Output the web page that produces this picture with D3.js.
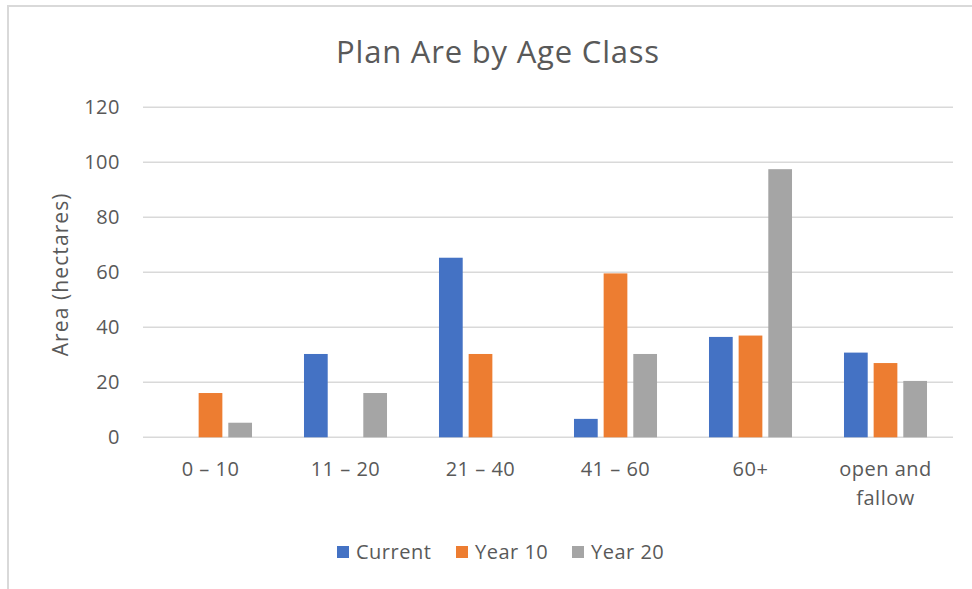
<!DOCTYPE html>
<html>
<head>
<meta charset="utf-8">
<script src="https://cdn.jsdelivr.net/npm/d3@7"></script>
<style>
  body { margin: 0; background: #fff; }
  text { font-family: "Open Sans", "Noto Sans", sans-serif; fill: #595959; }
</style>
</head>
<body>
<div id="chart"></div>
<script>
// data
const categories = ['0 – 10', '11 – 20', '21 – 40', '41 – 60', '60+', 'open and fallow'];
const seriesNames = ['Current', 'Year 10', 'Year 20'];
const current = [0, 30.3, 65.3, 6.7, 36.5, 30.8];
const year10 = [16.1, 0, 30.3, 59.6, 37, 27];
const year20 = [5.3, 16.1, 0, 30.3, 97.5, 20.5];
const yTicks = [0, 20, 40, 60, 80, 100, 120];
const colors = ['#4472c4', '#ed7d31', '#a5a5a5'];

const seriesValues = [current, year10, year20];
const rows = categories.map((c, i) => ({
  category: c,
  values: seriesNames.map((s, j) => ({ series: s, value: seriesValues[j][i] }))
}));

const width = 972, height = 589;
const plot = { left: 143, right: 953, top: 107.3, bottom: 437.3 };

const svg = d3.select('#chart').append('svg')
  .attr('width', width)
  .attr('height', height);

// chart frame (only top and left edges show in the picture)
svg.append('rect')
  .attr('x', 8).attr('y', 6)
  .attr('width', 1000).attr('height', 700)
  .attr('fill', 'none')
  .attr('stroke', '#d9d9d9')
  .attr('stroke-width', 2);

const x0 = d3.scaleBand()
  .domain(categories)
  .range([plot.left, plot.right])
  .paddingInner(0.385)
  .paddingOuter(0.1925);

const x1 = d3.scaleBand()
  .domain(seriesNames)
  .range([0, x0.bandwidth()])
  .paddingInner(0.2);

const y = d3.scaleLinear()
  .domain([0, 120])
  .range([plot.bottom, plot.top]);

const color = d3.scaleOrdinal().domain(seriesNames).range(colors);

// gridlines
svg.append('g')
  .selectAll('line')
  .data(yTicks)
  .enter()
  .append('line')
  .attr('x1', plot.left).attr('x2', plot.right)
  .attr('y1', d => y(d)).attr('y2', d => y(d))
  .attr('stroke', '#d9d9d9')
  .attr('stroke-width', 1.5);

// y tick labels
svg.append('g')
  .selectAll('text')
  .data(yTicks)
  .enter()
  .append('text')
  .attr('x', 120)
  .attr('y', d => y(d))
  .attr('dy', '0.35em')
  .attr('text-anchor', 'end')
  .style('font-size', '20px')
  .style('letter-spacing', '0.5px')
  .text(d => d);

// y axis title
svg.append('text')
  .attr('transform', `translate(68, ${(plot.top + plot.bottom) / 2 + 2}) rotate(-90)`)
  .attr('text-anchor', 'middle')
  .style('font-size', '21px')
  .style('letter-spacing', '1.1px')
  .text('Area (hectares)');

// bars
const groups = svg.append('g')
  .selectAll('g')
  .data(rows)
  .enter()
  .append('g')
  .attr('transform', d => `translate(${x0(d.category)},0)`);

groups.selectAll('rect')
  .data(d => d.values.filter(v => v.value > 0))
  .enter()
  .append('rect')
  .attr('x', d => x1(d.series))
  .attr('y', d => y(d.value))
  .attr('width', x1.bandwidth())
  .attr('height', d => y(0) - y(d.value))
  .attr('fill', d => color(d.series));

// x labels (wrap "open and fallow")
const xLabels = svg.append('g')
  .selectAll('text')
  .data(categories)
  .enter()
  .append('text')
  .attr('x', d => x0(d) + x0.bandwidth() / 2)
  .attr('y', 476)
  .attr('text-anchor', 'middle')
  .style('font-size', '20px')
  .style('letter-spacing', '0.5px');

xLabels.each(function (d) {
  const lines = d === 'open and fallow' ? ['open and', 'fallow'] : [d];
  d3.select(this).selectAll('tspan')
    .data(lines)
    .enter()
    .append('tspan')
    .attr('x', x0(d) + x0.bandwidth() / 2)
    .attr('dy', (l, i) => i === 0 ? 0 : 29)
    .text(l => l);
});

// title
svg.append('text')
  .attr('x', 498)
  .attr('y', 63)
  .attr('text-anchor', 'middle')
  .style('font-size', '31px')
  .style('letter-spacing', '0.8px')
  .text('Plan Are by Age Class');

// legend
const legendX = [337, 456, 572];
const legend = svg.append('g')
  .selectAll('g')
  .data(seriesNames)
  .enter()
  .append('g')
  .attr('transform', (d, i) => `translate(${legendX[i]}, 546)`);

legend.append('rect')
  .attr('width', 12)
  .attr('height', 12)
  .attr('fill', d => color(d));

legend.append('text')
  .attr('x', 19)
  .attr('y', 6)
  .attr('dy', '0.35em')
  .style('font-size', '20px')
  .style('letter-spacing', '0.5px')
  .text(d => d);
</script>
</body>
</html>
